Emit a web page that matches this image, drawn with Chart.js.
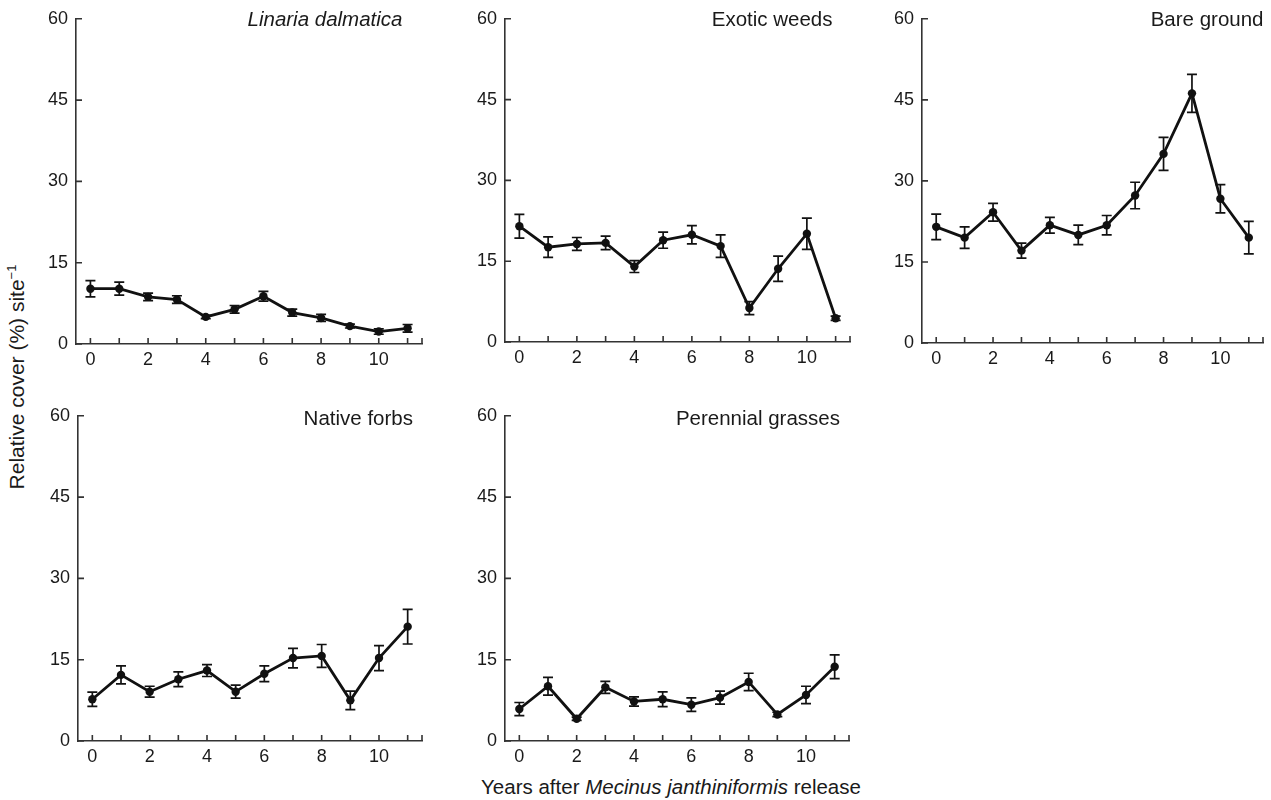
<!DOCTYPE html>
<html>
<head>
<meta charset="utf-8">
<script src="https://cdn.jsdelivr.net/npm/chart.js@4.4.0/dist/chart.umd.min.js"></script>
<style>
html,body{margin:0;padding:0;background:#fff;width:1271px;height:800px;overflow:hidden;position:relative;font-family:"Liberation Sans",Arial,sans-serif;color:#1a1a1a;}
canvas{position:absolute;}
#ytitle{position:absolute;left:17px;top:377px;transform:translate(-50%,-50%) rotate(-90deg);white-space:nowrap;font-size:21px;}
#xtitle{position:absolute;left:671px;top:787px;transform:translate(-50%,-50%);white-space:nowrap;font-size:20.5px;}
sup{font-size:13px;vertical-align:8px;line-height:0;}
</style>
</head>
<body>
<div id="ytitle">Relative cover (%) site<sup>−1</sup></div>
<div id="xtitle">Years after <i>Mecinus janthiniformis</i> release</div>
<script>
// ---- data ----
const years = [0,1,2,3,4,5,6,7,8,9,10,11];
const xLabelYears = [0,2,4,6,8,10];
const yTicks = [0,15,30,45,60];

const linariaMean = [10.2,10.2,8.7,8.2,5.0,6.4,8.8,5.8,4.8,3.3,2.3,2.9];
const linariaErr  = [1.5,1.2,0.7,0.7,0.3,0.7,0.9,0.65,0.65,0.35,0.5,0.7];
const exoticMean  = [21.5,17.6,18.2,18.4,14.0,18.9,19.9,17.8,6.3,13.6,20.1,4.4];
const exoticErr   = [2.2,1.9,1.2,1.25,1.1,1.5,1.7,2.1,1.2,2.35,2.9,0.4];
const bareMean    = [21.5,19.5,24.2,17.1,21.8,20.0,21.8,27.3,35.0,46.2,26.7,19.5];
const bareErr     = [2.35,2.0,1.65,1.4,1.45,1.8,1.8,2.45,3.05,3.5,2.6,3.0];
const forbsMean   = [7.7,12.2,9.1,11.4,13.0,9.1,12.4,15.3,15.7,7.5,15.3,21.1];
const forbsErr    = [1.3,1.65,1.0,1.35,1.1,1.2,1.45,1.8,2.1,1.7,2.3,3.2];
const grassMean   = [5.9,10.1,4.1,9.9,7.3,7.7,6.7,8.0,10.9,4.9,8.5,13.7];
const grassErr    = [1.2,1.65,0.3,1.1,0.85,1.35,1.25,1.2,1.6,0.4,1.6,2.2];

const panelTitles = ['Linaria dalmatica','Exotic weeds','Bare ground','Native forbs','Perennial grasses'];

// ---- layout (pixel geometry of each panel's axes) ----
const panels = [
  {mean: linariaMean, err: linariaErr, title: panelTitles[0], italic: true,  x0: 75.5, x1: 421,   yTop: 16,  yBot: 344,   titleRight: 402,  titleY: 20},
  {mean: exoticMean,  err: exoticErr,  title: panelTitles[1], italic: false, x0: 504.5,x1: 849,   yTop: 16,  yBot: 342,   titleRight: 832,  titleY: 20},
  {mean: bareMean,    err: bareErr,    title: panelTitles[2], italic: false, x0: 921.5,x1: 1262.5,yTop: 16,  yBot: 342.5, titleRight: 1263, titleY: 20},
  {mean: forbsMean,   err: forbsErr,   title: panelTitles[3], italic: false, x0: 78,   x1: 422,   yTop: 413, yBot: 741,   titleRight: 413,  titleY: 419},
  {mean: grassMean,   err: grassErr,   title: panelTitles[4], italic: false, x0: 505,  x1: 849,   yTop: 413, yBot: 741,   titleRight: 840,  titleY: 419}
];

const AXW = 70, PADTOP = 16, PADR = 10, XAXH = 42;
const INK = '#111';
const FONT = '"Liberation Sans", Arial, sans-serif';

const errorBarPlugin = {
  id: 'errorBars',
  afterDatasetsDraw(chart) {
    const ctx = chart.ctx;
    const ys = chart.scales.y;
    const meta = chart.getDatasetMeta(0);
    const errs = chart.options.plugins.errorBars.err;
    const means = chart.options.plugins.errorBars.mean;
    ctx.save();
    ctx.strokeStyle = INK;
    ctx.lineWidth = 1.7;
    meta.data.forEach((pt, i) => {
      const x = pt.x;
      const yt = ys.getPixelForValue(means[i] + errs[i]);
      const yb = ys.getPixelForValue(means[i] - errs[i]);
      ctx.beginPath();
      ctx.moveTo(x, yt); ctx.lineTo(x, yb);
      ctx.moveTo(x - 5, yt); ctx.lineTo(x + 5, yt);
      ctx.moveTo(x - 5, yb); ctx.lineTo(x + 5, yb);
      ctx.stroke();
    });
    ctx.restore();
  }
};

const inwardTicksPlugin = {
  id: 'inwardTicks',
  afterDraw(chart) {
    const ctx = chart.ctx;
    const xs = chart.scales.x, ys = chart.scales.y;
    const a = chart.chartArea;
    ctx.save();
    ctx.strokeStyle = '#333';
    ctx.lineWidth = 1.6;
    ctx.beginPath();
    xs.ticks.map(t => t.value).concat([xs.max]).forEach(v => {
      const px = xs.getPixelForValue(v);
      ctx.moveTo(px, a.bottom); ctx.lineTo(px, a.bottom - 6);
    });
    ys.ticks.forEach(t => {
      const py = ys.getPixelForValue(t.value);
      ctx.moveTo(a.left, py); ctx.lineTo(a.left + 6, py);
    });
    ctx.stroke();
    ctx.restore();
  }
};

const panelTitlePlugin = {
  id: 'panelTitle',
  afterDraw(chart) {
    const o = chart.options.plugins.panelTitle;
    const ctx = chart.ctx;
    ctx.save();
    ctx.fillStyle = '#1a1a1a';
    ctx.font = (o.italic ? 'italic ' : '') + '20.5px ' + FONT;
    ctx.textAlign = 'right';
    ctx.textBaseline = 'middle';
    ctx.fillText(o.text, o.x, o.y);
    ctx.restore();
  }
};

panels.forEach((p, idx) => {
  const left = p.x0 - AXW;
  const top = p.yTop - PADTOP;
  const w = (p.x1 - p.x0) + AXW + PADR;
  const h = (p.yBot - p.yTop) + PADTOP + XAXH;
  const cv = document.createElement('canvas');
  cv.width = Math.round(w); cv.height = Math.round(h);
  cv.style.left = left + 'px'; cv.style.top = top + 'px';
  cv.style.width = Math.round(w) + 'px'; cv.style.height = Math.round(h) + 'px';
  document.body.appendChild(cv);

  new Chart(cv, {
    type: 'line',
    data: {
      datasets: [{
        data: years.map((yr, i) => ({x: yr, y: p.mean[i]})),
        borderColor: INK,
        backgroundColor: INK,
        borderWidth: 2.8,
        pointRadius: 4.2,
        pointBorderWidth: 0,
        pointBackgroundColor: INK,
        tension: 0,
        clip: false
      }]
    },
    options: {
      responsive: false,
      animation: false,
      devicePixelRatio: 1,
      events: [],
      layout: {padding: {top: PADTOP, right: PADR, left: 0, bottom: 0}},
      plugins: {
        legend: {display: false},
        tooltip: {enabled: false},
        errorBars: {mean: p.mean, err: p.err},
        panelTitle: {text: p.title, italic: p.italic, x: p.titleRight - left, y: p.titleY - top}
      },
      scales: {
        x: {
          type: 'linear',
          min: -0.5, max: 11.5,
          afterBuildTicks: s => { s.ticks = years.map(v => ({value: v})); },
          afterFit: s => { s.height = XAXH; },
          grid: {display: false, drawTicks: false},
          border: {display: true, color: '#333', width: 1.6},
          ticks: {
            padding: 5,
            autoSkip: false,
            maxRotation: 0,
            color: '#1a1a1a',
            font: {family: FONT, size: 18},
            callback: v => xLabelYears.includes(v) ? String(v) : ''
          }
        },
        y: {
          min: 0, max: 60,
          afterBuildTicks: s => { s.ticks = yTicks.map(v => ({value: v})); },
          afterFit: s => { s.width = AXW; },
          grid: {display: false, drawTicks: false},
          border: {display: true, color: '#333', width: 1.6},
          ticks: {
            padding: 8,
            color: '#1a1a1a',
            font: {family: FONT, size: 18}
          }
        }
      }
    },
    plugins: [errorBarPlugin, inwardTicksPlugin, panelTitlePlugin]
  });
});
</script>
</body>
</html>
